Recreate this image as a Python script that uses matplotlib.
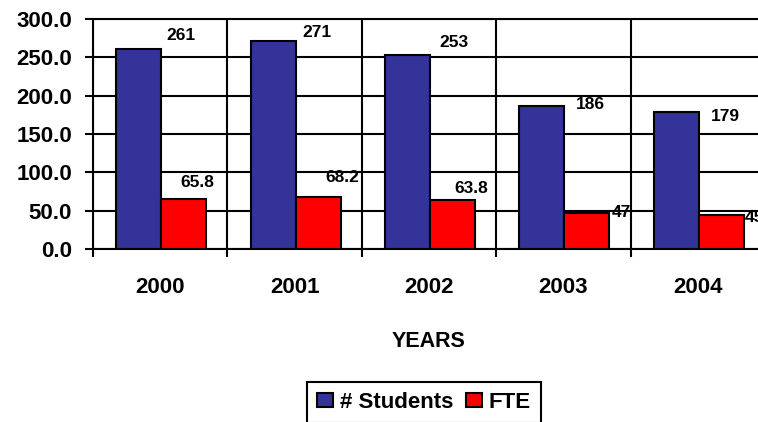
import numpy as np
import matplotlib
matplotlib.use("Agg")
import matplotlib.pyplot as plt

# donnees
years = ["2000", "2001", "2002", "2003", "2004"]
students = [261, 271, 253, 186, 179]
fte = [65.8, 68.2, 63.8, 47, 45]
students_labels = ["261", "271", "253", "186", "179"]
fte_labels = ["65.8", "68.2", "63.8", "47", "45"]

# decalage des etiquettes (pixels), placees a la main dans l'original
stud_off = [(42, 13), (44, 9), (46, 13), (48, 2), (49, -5)]
fte_off = [(14, 16), (24, 19), (19, 12), (34, 0), (33, -3)]

plt.rcParams['font.family'] = ['Liberation Sans', 'DejaVu Sans']
plt.rcParams['font.weight'] = 'bold'

fig = plt.figure(figsize=(7.58, 4.22), dpi=100)
ax = fig.add_axes([93 / 758, 1 - 249 / 422, 672 / 758, 230 / 422])

x = np.arange(len(years))
w = 0.335
b1 = ax.bar(x - 0.16, students, width=w, color='#333399', edgecolor='black', linewidth=1.5, label='# Students', zorder=3)
b2 = ax.bar(x + 0.175, fte, width=w, color='#FF0000', edgecolor='black', linewidth=1.5, label='FTE', zorder=3)

for i in range(len(years)):
    ax.annotate(students_labels[i], xy=(x[i] - 0.16, students[i]), xytext=stud_off[i],
                textcoords='offset pixels', ha='center', va='center', fontsize=12.5,
                fontweight='bold', annotation_clip=False, zorder=4)
    ax.annotate(fte_labels[i], xy=(x[i] + 0.175, fte[i]), xytext=fte_off[i],
                textcoords='offset pixels', ha='center', va='center', fontsize=12.5,
                fontweight='bold', annotation_clip=False, zorder=4)

ax.set_xlim(-0.5, 4.5)
ax.set_ylim(0, 300)
ax.set_yticks(np.arange(0, 301, 50))
ax.set_yticklabels([f"{v:.1f}" for v in np.arange(0, 301, 50)])
ax.set_xticks(x)
ax.set_xticklabels(years)
ax.set_xticks(np.arange(-0.5, 5, 1), minor=True)

ax.grid(True, axis='y', color='black', linewidth=1.5, zorder=0)
ax.grid(True, axis='x', which='minor', color='black', linewidth=1.5, zorder=0)
ax.tick_params(axis='y', length=6, width=1.5, pad=9, labelsize=16)
ax.tick_params(axis='x', which='major', length=0, pad=20, labelsize=16)
ax.tick_params(axis='x', which='minor', length=6, width=1.5)

for s in ['right']:
    ax.spines[s].set_visible(False)
for s in ['left', 'bottom', 'top']:
    ax.spines[s].set_linewidth(1.5)

ax.set_xlabel('YEARS', fontsize=15.5, fontweight='bold', labelpad=24)

leg = fig.legend(loc='center', bbox_to_anchor=(424 / 758, 1 - 402 / 422), ncol=2,
                 fontsize=16, frameon=True, fancybox=False, framealpha=1,
                 edgecolor='black', handlelength=0.7, handleheight=0.6,
                 handletextpad=0.3, columnspacing=0.6, borderpad=0.45)
leg.get_frame().set_linewidth(1.5)

plt.savefig('out.png', dpi=100)
